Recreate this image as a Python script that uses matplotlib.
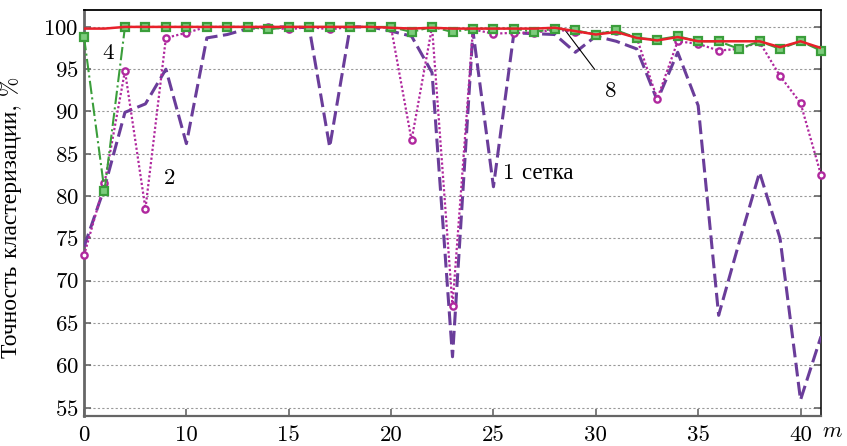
import numpy as np
import matplotlib
matplotlib.use("Agg")
import matplotlib.pyplot as plt

plt.rcParams['font.family'] = ['cmr10', 'Liberation Serif']
plt.rcParams['mathtext.fontset'] = 'cm'
plt.rcParams['axes.formatter.use_mathtext'] = True

# Grid size m and clustering accuracy (%) for each number of grids
m = np.arange(5, 42)
xtick_pos = [5, 10, 15, 20, 25, 30, 35, 40]
xtick_labels = ['0', '10', '15', '20', '25', '30', '35', '40']
yticks = [55, 60, 65, 70, 75, 80, 85, 90, 95, 100]

acc_1 = [74.0, 81.0, 89.9, 90.9, 95.0, 86.2, 98.7, 99.1, 99.8, 100.0,
         100.0, 99.9, 85.8, 100.0, 100.0, 99.5, 98.9, 94.6, 61.0, 99.5,
         81.1, 99.3, 99.2, 99.1, 97.0, 98.9, 98.3, 97.4, 91.3, 97.0,
         90.7, 65.9, 74.5, 82.8, 75.0, 55.9, 63.4]
acc_2 = [73.0, 81.5, 94.8, 78.5, 98.7, 99.3, 100.0, 100.0, 100.0, 100.0,
         99.7, 100.0, 99.7, 100.0, 100.0, 99.9, 86.6, 100.0, 67.0, 99.7,
         99.2, 99.3, 99.3, 99.7, 99.4, 99.2, 99.5, 98.7, 91.5, 98.3,
         98.0, 97.2, 97.4, 98.2, 94.2, 91.0, 82.5]
acc_4 = [98.8, 80.6, 100.0, 100.0, 100.0, 100.0, 100.0, 100.0, 100.0, 99.7,
         100.0, 100.0, 100.0, 100.0, 100.0, 100.0, 99.4, 100.0, 99.4, 99.8,
         99.8, 99.8, 99.4, 99.8, 99.6, 99.1, 99.6, 98.7, 98.5, 98.9,
         98.3, 98.3, 97.4, 98.3, 97.4, 98.3, 97.2]
acc_8 = [99.8, 99.8, 100.0, 100.0, 100.0, 100.0, 100.0, 100.0, 100.0, 100.0,
         100.0, 100.0, 100.0, 100.0, 100.0, 99.9, 99.8, 99.9, 99.8, 99.8,
         99.8, 99.8, 99.8, 99.9, 99.5, 99.1, 99.4, 98.7, 98.4, 98.8,
         98.3, 98.3, 98.3, 98.3, 97.6, 98.3, 97.5]

fig = plt.figure(figsize=(8.47, 4.46), dpi=100)
ax = fig.add_axes([0.0992, 0.0673, 0.8701, 0.9103])

ax.plot(m, acc_1, color='#6a3d9a', lw=2.2, dashes=(4.5, 1.8), zorder=3)
ax.plot(m, acc_2, color='#b0289e', lw=1.6, linestyle=(0, (1, 1)),
        marker='o', ms=4.5, mfc='white', mec='#b0289e', mew=1.7,
        zorder=4, clip_on=False)
ax.plot(m, acc_4, color='#3b9e3b', lw=1.5, linestyle='-.',
        marker='s', ms=5.5, mfc='#7ccc7c', mec='#3b9e3b', mew=1.6,
        zorder=5, clip_on=False)
ax.plot(m, acc_8, color='#e8202a', lw=1.8, zorder=6)

ax.set_xlim(5, 41)
ax.set_ylim(54, 102)
ax.set_xticks(xtick_pos)
ax.set_xticklabels(xtick_labels)
ax.set_yticks(yticks)

for y in yticks:
    ax.axhline(y, color='#999999', lw=0.8, linestyle=(0, (2, 2)), zorder=1)

ax.tick_params(axis='both', labelsize=16.5, direction='in', color='#666666',
               length=5, width=1.2)
ax.tick_params(axis='x', pad=7)
ax.tick_params(axis='y', pad=4, right=True)

ax.spines['left'].set_color('#666666')
ax.spines['left'].set_linewidth(2)
ax.spines['bottom'].set_color('#666666')
ax.spines['bottom'].set_linewidth(1.6)
ax.spines['top'].set_color('black')
ax.spines['top'].set_linewidth(1.3)
ax.spines['right'].set_color('black')
ax.spines['right'].set_linewidth(1.1)

ax.set_ylabel('Точность кластеризации, %', fontsize=17)
ax.yaxis.set_label_coords(-0.084, 0.49)
ax.text(1.016, -0.038, '$m$', transform=ax.transAxes, fontsize=16,
        ha='center', va='center')

# curve labels
ax.text(6.17, 96.9, '4', fontsize=16.5, ha='center', va='center')
ax.text(9.2, 82.1, '2', fontsize=16.5, ha='center', va='center')
ax.text(25.46, 82.7, '1 сетка', fontsize=16.5, ha='left', va='center')
ax.annotate('8', xy=(28.49, 99.65), xytext=(30.73, 92.45), fontsize=16.5,
            ha='center', va='center',
            arrowprops=dict(arrowstyle='-', color='black', lw=0.8,
                            shrinkA=9, shrinkB=0))

fig.savefig('out.png', dpi=100)
